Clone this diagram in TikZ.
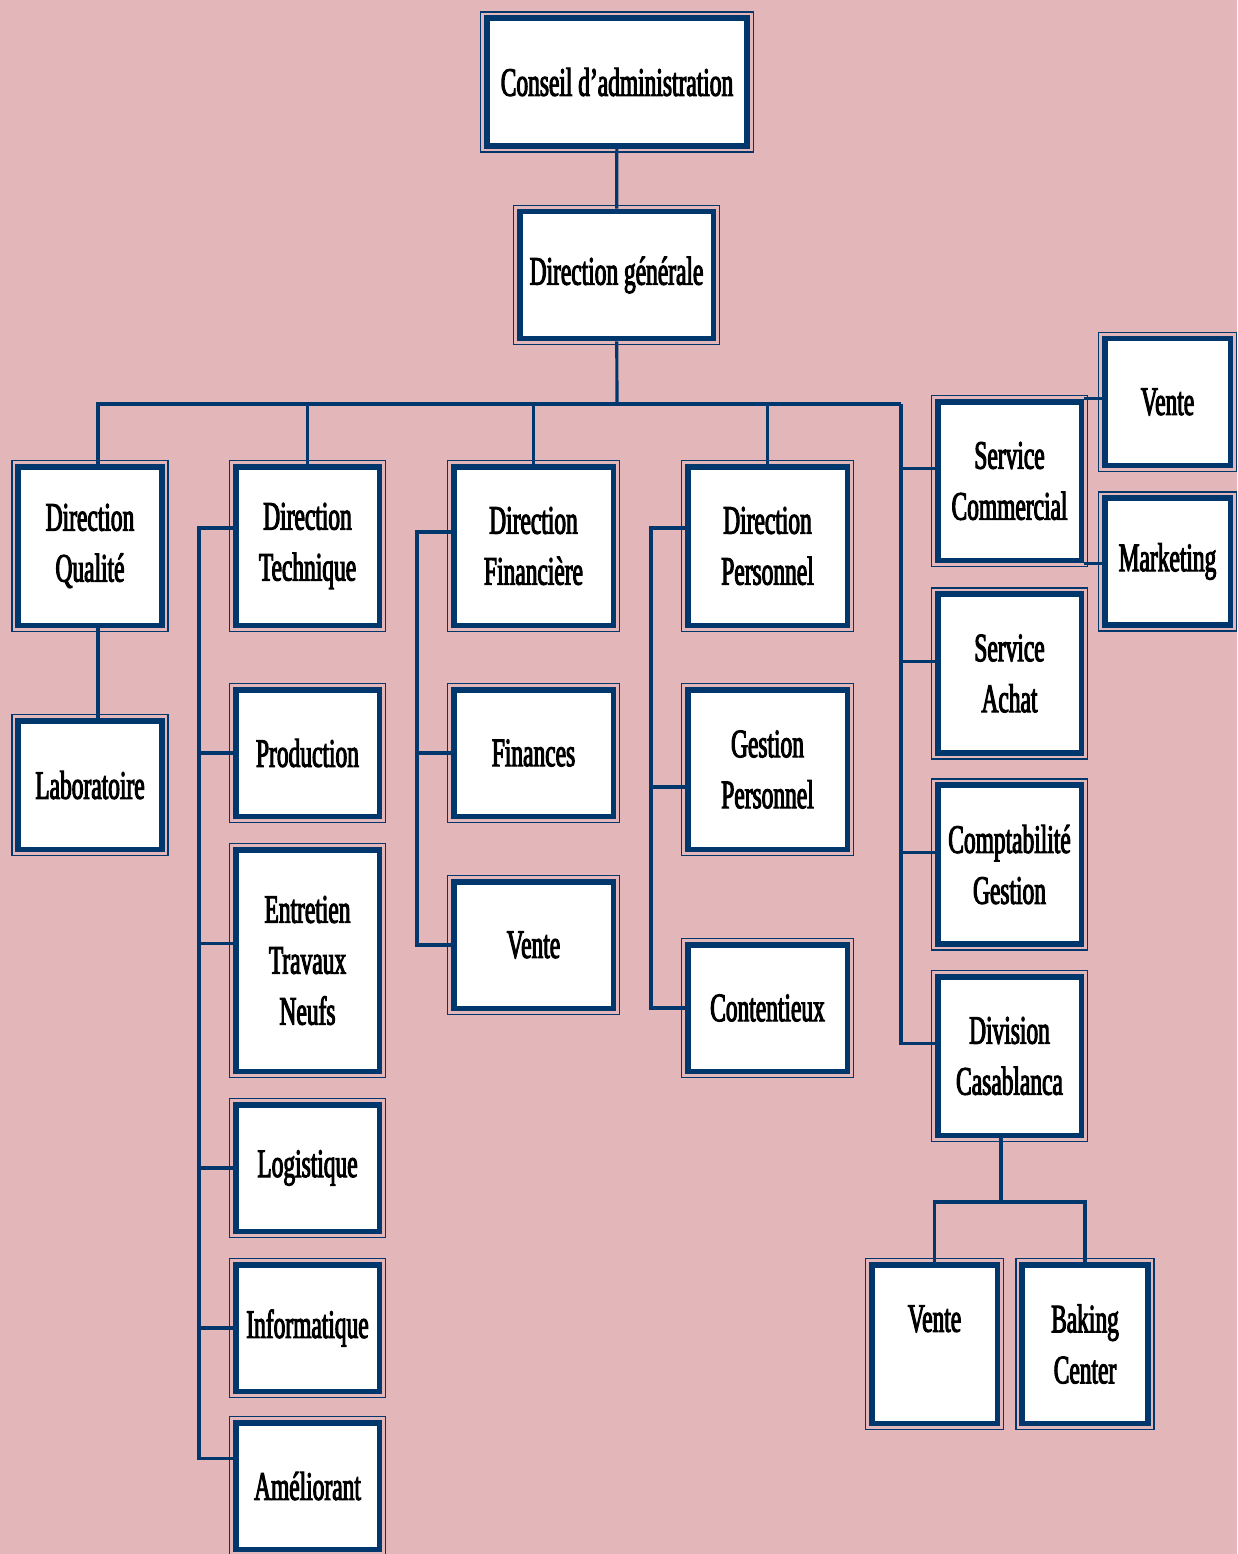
\documentclass[tikz,border=0pt]{standalone}
\usepackage{fontspec}
\setmainfont{Liberation Serif}[FakeStretch=0.58,FakeBold=2.5]
\definecolor{bleu}{HTML}{00386E}
\definecolor{rose}{HTML}{E3B7BA}
\tikzset{
  lien/.style={draw=bleu, line width=1.8pt},
  boite/.style={draw=bleu, line width=3.4pt, fill=white, inner sep=0pt, align=center,
    font=\fontsize{23}{29}\selectfont, minimum width=2.88cm, minimum height=3.18cm,
    append after command={\pgfextra{\let\bnode\tikzlastnode
      \draw[bleu, line width=0.85pt] ([shift={(-1.6pt,1.6pt)}]\bnode.north west) rectangle ([shift={(1.6pt,-1.6pt)}]\bnode.south east);
      \fill[bleu] ([shift={(3pt,3pt)}]\bnode.south west) rectangle ([shift={(-3pt,6.5pt)}]\bnode.south east);}}},
  basse/.style={minimum height=2.54cm},
  large/.style={minimum width=3.2cm},
  etroite/.style={minimum width=2.52cm}
}
\begin{document}
\begin{tikzpicture}[x=0.02cm, y=-0.02cm]
\fill[rose] (0,0) rectangle (1237,1554);
\useasboundingbox (0,0) rectangle (1237,1554);
\node[boite, minimum width=5.22cm, minimum height=2.56cm] (conseil) at (617,82) {Conseil d’administration};
\node[boite, minimum width=3.88cm, basse] (dg) at (616.5,275) {Direction générale};
\node[boite] (qual) at (90,546) {Direction\\Qualité};
\node[boite, minimum height=2.58cm] (labo) at (90,785) {Laboratoire};
\node[boite] (tech) at (307.5,546) {Direction\\Technique};
\node[boite, basse] (prod) at (307.5,753) {Production};
\node[boite, minimum height=4.44cm] (entr) at (307.5,960.5) {Entretien\\Travaux\\Neufs};
\node[boite, basse] (logi) at (307.5,1168) {Logistique};
\node[boite, basse] (info) at (307.5,1328) {Informatique};
\node[boite, basse] (amel) at (307.5,1486) {Améliorant};
\node[boite, large] (fin) at (533.5,546) {Direction\\Financière};
\node[boite, large, basse] (finances) at (533.5,753) {Finances};
\node[boite, large, basse] (vfin) at (533.5,945) {Vente};
\node[boite, large] (pers) at (767.5,546) {Direction\\Personnel};
\node[boite, large, minimum height=3.2cm] (gpers) at (767.5,769.5) {Gestion\\Personnel};
\node[boite, large, basse] (cont) at (767.5,1008) {Contentieux};
\node[boite] (com) at (1009.5,481) {Service\\Commercial};
\node[boite] (achat) at (1009.5,673.5) {Service\\Achat};
\node[boite] (compta) at (1009.5,864.5) {Comptabilité\\Gestion};
\node[boite] (casa) at (1009.5,1056) {Division\\Casablanca};
\node[boite, etroite, basse] (vcom) at (1167.5,402) {Vente};
\node[boite, etroite, basse] (mark) at (1167.5,561.5) {Marketing};
\node[boite, etroite] (vcasa) at (934.5,1344) {Vente\\\mbox{}};
\node[boite, etroite] (baking) at (1085,1344) {Baking\\Center};
\coordinate (bus) at (617,404);
\coordinate (spQ) at (98,404);
\coordinate (spT) at (199,528);
\coordinate (spF) at (417,532);
\coordinate (spP) at (651,528);
\coordinate (spS) at (901,404);
\coordinate (casab) at (1001,1202);
\draw[lien] (conseil) -- (dg);
\draw[lien] (dg) -- (bus);
\draw[lien] (spQ |- qual.north) -- (spQ) -- (spS);
\draw[lien] (spQ |- qual.south) -- (spQ |- labo.north);
\foreach \n in {tech,fin,pers} \draw[lien] (\n.north) -- (\n.north |- bus);
\coordinate (bamel) at ([yshift=15.9pt]amel.west);
\coordinate (bentr) at ([yshift=9.6pt]entr.west);
\coordinate (bgpers) at ([yshift=-10pt]gpers.west);
\draw[lien] (tech.west |- spT) -- (spT) |- (bamel);
\foreach \n in {prod,logi,info} \draw[lien] (spT |- \n.west) -- (\n.west);
\draw[lien] (spT |- bentr) -- (bentr);
\draw[lien] (fin.west |- spF) -- (spF) |- (vfin.west);
\draw[lien] (spF |- finances.west) -- (finances.west);
\draw[lien] (pers.west |- spP) -- (spP) |- (cont.west);
\draw[lien] (spP |- bgpers) -- (bgpers);
\foreach \n in {com,achat,compta,casa} \coordinate (b\n) at ([yshift=7pt]\n.west);
\draw[lien] (spS) |- (bcasa);
\foreach \n in {com,achat,compta} \draw[lien] (spS |- b\n) -- (b\n);
\draw[lien] (com.north east) -- (vcom.west |- com.north east);
\draw[lien] (com.south east) -- (mark.west |- com.south east);
\draw[lien] (casab |- casa.south) -- (casab);
\draw[lien] (vcasa.north) |- (casab) -| (baking.north);
\end{tikzpicture}
\end{document}
